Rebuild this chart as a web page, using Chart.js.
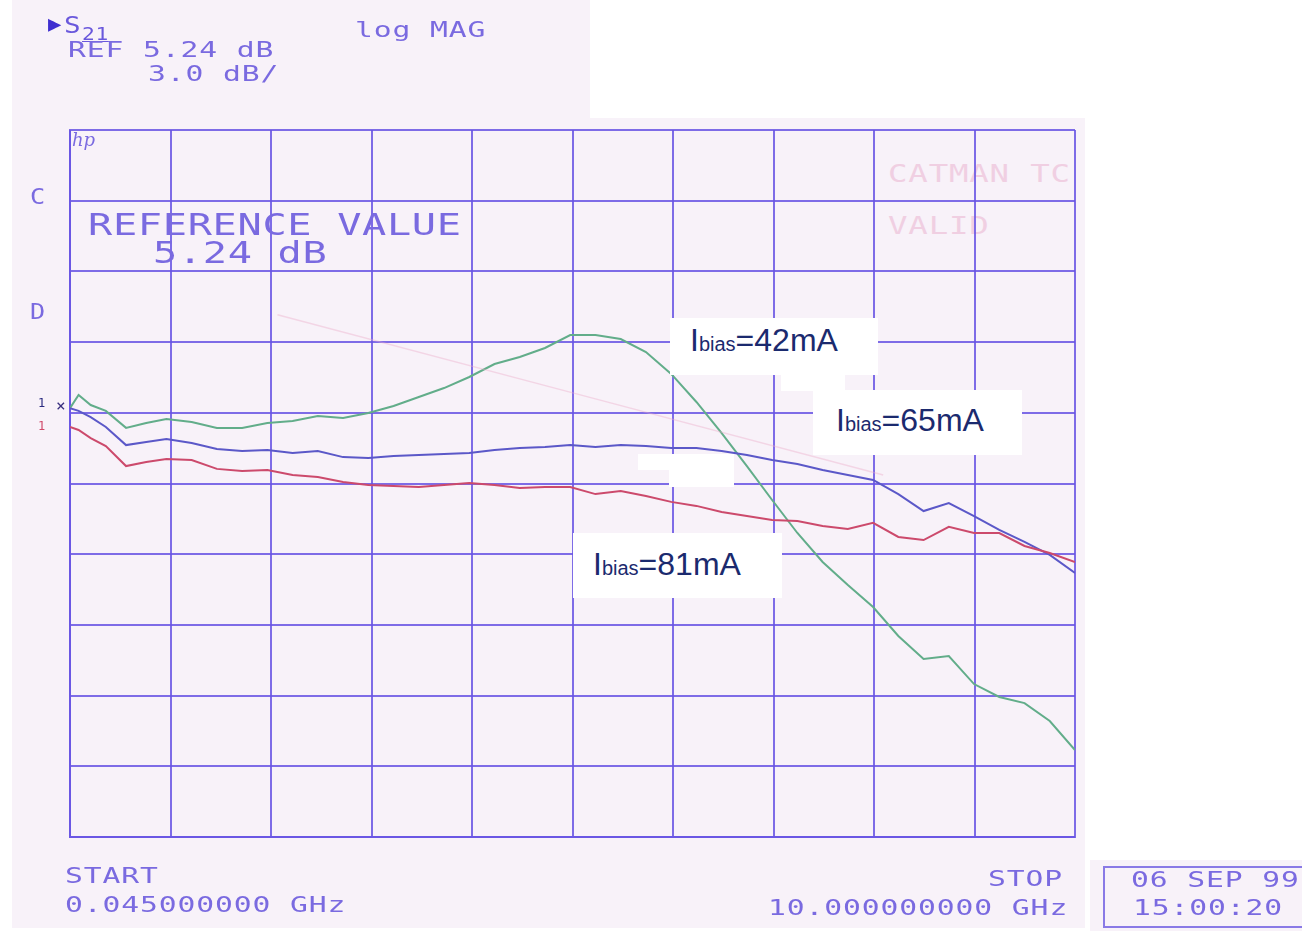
<!DOCTYPE html>
<html>
<head>
<meta charset="utf-8">
<script src="https://cdn.jsdelivr.net/npm/chart.js@4.4.0/dist/chart.umd.min.js"></script>
<style>
    html, body { margin: 0; padding: 0; background: #ffffff; }
    #page { position: relative; width: 1302px; height: 931px; overflow: hidden; }
    .paper { position: absolute; background: #f8f2f9; }
    #chartResumo { position: absolute; left: 0; top: 0; z-index: 2; }
    .plot { position: absolute; z-index: 3; font-family: "DejaVu Sans Mono", monospace; color: #7a6ae0;
            line-height: 1; white-space: pre; transform-origin: 0 0; }
    .p22 { font-size: 22px; letter-spacing: 0.65px; transform: scaleX(1.35); }
    .p31 { font-size: 31px; letter-spacing: 0.5px; transform: scaleX(1.3); }
    .ghost { position: absolute; z-index: 1; font-family: "DejaVu Sans Mono", monospace; color: #f0cfe2;
             font-size: 24px; letter-spacing: 0.6px; line-height: 1; white-space: pre;
             transform: scaleX(1.35); transform-origin: 0 0; }
    .box { position: absolute; background: #ffffff; z-index: 4; }
    .lbl { position: absolute; z-index: 5; font-family: "Liberation Sans", Arial, sans-serif; font-size: 32px;
           line-height: 32px; color: #1b2a6e; white-space: pre; }
    .lbl span { font-size: 20px; }
    #datebox { position: absolute; left: 1103px; top: 866px; width: 205px; height: 58px;
               border: 2px solid #8a7ae6; z-index: 3; }
</style>
</head>
<body>
<div id="page">
    <!-- papel escaneado -->
    <div class="paper" style="left:12px; top:0; width:578px; height:120px;"></div>
    <div class="paper" style="left:12px; top:118px; width:1073px; height:810px;"></div>
    <div class="paper" style="left:1090px; top:860px; width:212px; height:71px;"></div>

    <!-- texto fantasma do verso -->
    <div class="ghost" style="left:888px; top:162px;">CATMAN TC</div>
    <div class="ghost" style="left:888px; top:214px;">VALID</div>

    <canvas id="chartResumo" width="1302" height="931"></canvas>

    <!-- cabeçalho do analisador -->
    <div class="plot" style="left:48px; top:13px; font-size:22px; color:#3f2ed0;">&#9654;</div>
    <div class="plot" style="left:64px; top:14px; font-size:23px; transform:scaleX(1.2); color:#6a58dc;">S</div>
    <div class="plot" style="left:82px; top:26px; font-size:17px; transform:scaleX(1.25); letter-spacing:0.5px; text-decoration:underline; color:#6a58dc;">21</div>
    <div class="plot p22" style="left:355px; top:19px;">log MAG</div>
    <div class="plot p22" style="left:68px; top:39px;">REF 5.24 dB</div>
    <div class="plot p22" style="left:148px; top:63px;">3.0 dB/</div>

    <div class="plot" style="left:72px; top:131px; font-size:18px; font-style:italic; font-family:'DejaVu Serif', serif;">hp</div>
    <div class="plot" style="left:30px; top:187px; font-size:21px; transform:scaleX(1.2);">C</div>
    <div class="plot" style="left:30px; top:302px; font-size:21px; transform:scaleX(1.2);">D</div>
    <div class="plot" style="left:38px; top:397px; font-size:12px; color:#2a2a80;">1</div>
    <div class="plot" style="left:38px; top:420px; font-size:12px; color:#d04a6a;">1</div>
    <div class="plot" style="left:56px; top:398px; font-size:16px; color:#3a3080;">&#215;</div>

    <div class="plot p31" style="left:88px; top:209px;">REFERENCE VALUE</div>
    <div class="plot p31" style="left:153px; top:237px;">5.24 dB</div>

    <!-- rodapé -->
    <div class="plot p22" style="left:65px; top:865px;">START</div>
    <div class="plot p22" style="left:65px; top:894px;">0.045000000 GHz</div>
    <div class="plot p22" style="left:988px; top:868px;">STOP</div>
    <div class="plot p22" style="left:768px; top:897px;">10.000000000 GHz</div>
    <div id="datebox"></div>
    <div class="plot p22" style="left:1131px; top:869px;">06 SEP 99</div>
    <div class="plot p22" style="left:1133px; top:897px;">15:00:20</div>

    <!-- rótulos colados por cima -->
    <div class="box" style="left:670px; top:318px; width:208px; height:57px;"></div>
    <div class="box" style="left:781px; top:375px; width:64px; height:16px;"></div>
    <div class="box" style="left:813px; top:390px; width:209px; height:65px;"></div>
    <div class="box" style="left:638px; top:454px; width:96px; height:16px;"></div>
    <div class="box" style="left:669px; top:470px; width:65px; height:17px;"></div>
    <div class="box" style="left:573px; top:533px; width:209px; height:65px;"></div>
    <div class="lbl" style="left:690px; top:324px;">I<span>bias</span>=42mA</div>
    <div class="lbl" style="left:836px; top:404px;">I<span>bias</span>=65mA</div>
    <div class="lbl" style="left:593px; top:548px;">I<span>bias</span>=81mA</div>
</div>

<script>
// Eixo de frequência (GHz) e escala do analisador
const START_GHZ = 0.045;
const STOP_GHZ = 10.0;
const REF_DB = 5.24;
const DB_PER_DIV = 3.0;

const freqGHz = [0.045, 0.13, 0.25, 0.4, 0.6, 0.8, 1.0, 1.25, 1.5, 1.75, 2.0, 2.25, 2.5, 2.75, 3.0, 3.25,
    3.5, 3.75, 4.0, 4.25, 4.5, 4.75, 5.0, 5.25, 5.5, 5.75, 6.0, 6.25, 6.5, 6.75, 7.0, 7.25, 7.5, 7.75,
    8.0, 8.25, 8.5, 8.75, 9.0, 9.25, 9.5, 9.75, 10.0];

// S21 em dB para cada corrente de polarização
const s21_42mA = [5.44, 6.00, 5.57, 5.32, 4.60, 4.81, 4.98, 4.85, 4.60, 4.60, 4.81, 4.89, 5.10, 5.02, 5.23, 5.53,
    5.91, 6.29, 6.76, 7.31, 7.61, 7.99, 8.54, 8.54, 8.37, 7.82, 6.89, 5.70, 4.38, 2.98, 1.54, 0.14, -1.09, -2.07,
    -3.00, -4.23, -5.21, -5.08, -6.27, -6.82, -7.08, -7.84, -9.07];
const s21_65mA = [5.44, 5.32, 5.06, 4.64, 3.87, 4.00, 4.13, 3.96, 3.70, 3.62, 3.66, 3.53, 3.62, 3.36, 3.32, 3.41,
    3.45, 3.49, 3.53, 3.66, 3.75, 3.79, 3.87, 3.79, 3.87, 3.83, 3.75, 3.75, 3.62, 3.45, 3.24, 3.07, 2.81, 2.60,
    2.39, 1.79, 1.07, 1.41, 0.86, 0.27, -0.24, -0.79, -1.56];
const s21_81mA = [4.64, 4.51, 4.17, 3.83, 2.98, 3.15, 3.28, 3.24, 2.86, 2.77, 2.81, 2.60, 2.52, 2.30, 2.18, 2.13,
    2.09, 2.18, 2.26, 2.18, 2.05, 2.09, 2.09, 1.79, 1.92, 1.71, 1.46, 1.29, 1.03, 0.86, 0.69, 0.65, 0.44, 0.31,
    0.57, -0.03, -0.16, 0.40, 0.14, 0.14, -0.41, -0.71, -1.09];

// traço apagado que aparece do verso do papel
const ghostFreq = [2.1, 5.1, 8.1];
const ghostDb = [9.4, 6.0, 2.6];

const GRID = 'rgba(105, 85, 228, 0.85)';

function toPoints(xs, ys) { return xs.map((x, i) => ({ x: x, y: ys[i] })); }

function divTicks(min, max) {
    const t = [];
    for (let i = 0; i <= 10; i++) t.push({ value: min + i * (max - min) / 10 });
    return t;
}

const yMin = REF_DB - 6 * DB_PER_DIV;
const yMax = REF_DB + 4 * DB_PER_DIV;

const ctx = document.getElementById('chartResumo').getContext('2d');
new Chart(ctx, {
    type: 'line',
    data: {
        datasets: [
            { label: 'ghost', data: toPoints(ghostFreq, ghostDb), borderColor: 'rgba(236, 170, 200, 0.4)', borderWidth: 1.5 },
            { label: 'Ibias=81mA', data: toPoints(freqGHz, s21_81mA), borderColor: '#cc4a6c', borderWidth: 2 },
            { label: 'Ibias=65mA', data: toPoints(freqGHz, s21_65mA), borderColor: '#5b58c8', borderWidth: 2 },
            { label: 'Ibias=42mA', data: toPoints(freqGHz, s21_42mA), borderColor: '#62ad8a', borderWidth: 2 }
        ]
    },
    options: {
        responsive: false,
        animation: false,
        layout: { padding: { left: 70, top: 130, right: 227, bottom: 94 } },
        elements: { point: { radius: 0 }, line: { tension: 0 } },
        plugins: { legend: { display: false }, tooltip: { enabled: false } },
        scales: {
            x: {
                type: 'linear', min: START_GHZ, max: STOP_GHZ,
                afterBuildTicks: (s) => { s.ticks = divTicks(START_GHZ, STOP_GHZ); },
                ticks: { display: false },
                grid: { color: GRID, lineWidth: 2, drawTicks: false },
                border: { display: true, color: GRID, width: 2 }
            },
            y: {
                type: 'linear', min: yMin, max: yMax,
                afterBuildTicks: (s) => { s.ticks = divTicks(yMin, yMax); },
                ticks: { display: false },
                grid: { color: GRID, lineWidth: 2, drawTicks: false },
                border: { display: true, color: GRID, width: 2 }
            }
        }
    }
});
</script>
</body>
</html>
